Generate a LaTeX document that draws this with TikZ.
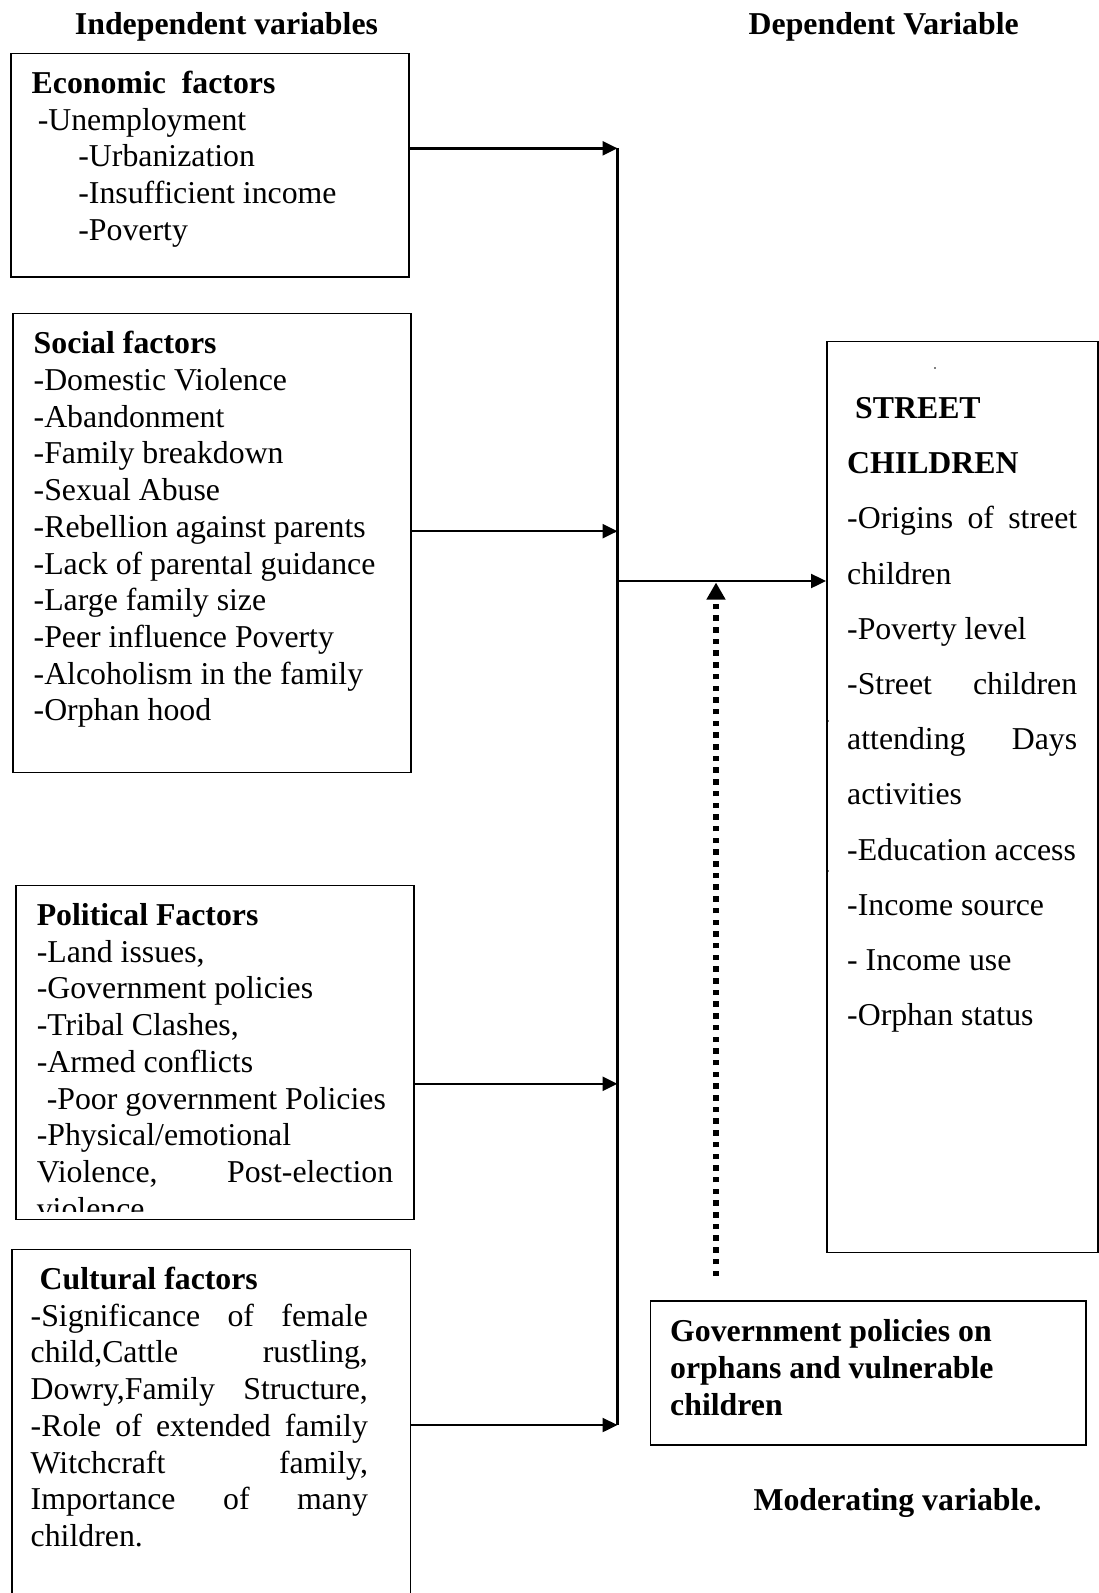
\documentclass[tikz,border=0pt]{standalone}
\usepackage{fontspec}
\setmainfont{Liberation Serif}
\usetikzlibrary{arrows.meta}
\tikzset{
  boxnode/.style={draw, line width=1.5pt, inner sep=0pt, anchor=north west},
  txt/.style={anchor=base west, inner sep=0pt, font=\fontsize{31.8}{36.7}\selectfont},
  streettxt/.style={anchor=base west, inner sep=0pt, font=\fontsize{31.8}{55.2}\selectfont},
  govtxt/.style={anchor=base west, inner sep=0pt, font=\fontsize{31.8}{37}\selectfont\bfseries},
  title/.style={anchor=base, inner sep=0pt, font=\fontsize{31.8}{36.7}\selectfont\bfseries},
  conn/.style={line width=2.4pt},
  arr/.style={line width=2.4pt, -{Triangle[length=15pt,width=14pt]}},
  dotarr/.style={line width=6pt, dash pattern=on 5.5pt off 6.2pt, -{Triangle[length=17pt,width=18pt]}}
}
\begin{document}
\begin{tikzpicture}[x=1pt,y=-1pt]
\useasboundingbox (0,0) rectangle (1098,1593);

% titles
\node[title] (tind) at (226.5,34.2) {Independent variables};
\node[title] (tdep) at (883.7,34.2) {Dependent Variable};
\node[title] (tmod) at (897.5,1510) {Moderating variable.};

% boxes
\node[boxnode, minimum width=398pt, minimum height=223.5pt] (econ) at (10.2,52.8) {};
\node[boxnode, minimum width=398pt, minimum height=459pt] (soc) at (12.2,312.8) {};
\node[boxnode, minimum width=398pt, minimum height=334pt] (pol) at (15.2,884.7) {};
\node[draw=none, inner sep=0pt, anchor=north west, minimum width=398pt, minimum height=360pt] (cult) at (12.2,1249.3) {};
\draw[line width=1.5pt] (cult.south west) -- (cult.north west) -- (cult.north east) -- (cult.south east);
\node[boxnode, minimum width=271pt, minimum height=911pt] (street) at (826,340.5) {};
\node[boxnode, minimum width=435.5pt, minimum height=144pt] (gov) at (649.5,1300) {};

% texts
\node[txt] (econt) at (31.5,93.5) {\parbox[t]{370pt}{%
\textbf{Economic~ factors}\\
\hspace*{6.1pt}-Unemployment\\
\hspace*{46.7pt}-Urbanization\\
\hspace*{46.7pt}-Insufficient income\\
\hspace*{46.7pt}-Poverty}};

\node[txt] (soct) at (33.5,353.8) {\parbox[t]{370pt}{%
\textbf{Social factors}\\
-Domestic Violence\\
-Abandonment\\
-Family breakdown\\
-Sexual Abuse\\
-Rebellion against parents\\
-Lack of parental guidance\\
-Large family size\\
-Peer influence Poverty\\
-Alcoholism in the family\\
-Orphan hood}};

\begin{scope}
\clip (0,0) rectangle (1098,1211);
\node[txt] (polt) at (36.6,925.5) {\parbox[t]{356.4pt}{%
\textbf{Political Factors}\\
-Land issues,\\
-Government policies\\
-Tribal Clashes,\\
-Armed conflicts\\
\hspace*{10pt}-Poor government Policies\\
-Physical/emotional\\
Violence,\hfill Post-election\\
violence}};
\end{scope}

\node[txt] (cultt) at (30.5,1289.5) {\parbox[t]{337.2pt}{%
\hspace*{9pt}\textbf{Cultural factors}\\
-Significance\hfill of\hfill female\\
child,Cattle\hfill rustling,\\
Dowry,Family\hfill Structure,\\
-Role\hfill of\hfill extended\hfill family\\
Witchcraft\hfill family,\\
Importance\hfill of\hfill many\\
children.}};

\node[streettxt] (streett) at (847,418.5) {\parbox[t]{230pt}{%
\hspace*{8pt}\textbf{STREET}\\
\textbf{CHILDREN}\\
-Origins\hfill of\hfill street\\
children\\
-Poverty level\\
-Street\hfill children\\
attending\hfill Days\\
activities\\
-Education access\\
-Income source\\
- Income use\\
-Orphan status}};

\node[govtxt] (govt) at (670,1341.5) {\parbox[t]{400pt}{%
Government policies on\\
orphans and vulnerable\\
children}};

% tiny specks
\fill (935,368) circle (0.9pt);
\fill (828,721) circle (0.8pt);
\fill (828,871) circle (0.8pt);

% connectors
\coordinate (j1) at (617.5,148.3);
\coordinate (j2) at (617.5,531.2);
\coordinate (jm) at (617.5,581);
\coordinate (j3) at (617.5,1083.8);
\coordinate (j4) at (617.5,1425);
\draw[conn] (j1) -- (j4);
\draw[arr] (econ.east |- j1) -- (j1);
\draw[arr] (soc.east |- j2) -- (j2);
\draw[arr] (pol.east |- j3) -- (j3);
\draw[arr] (cult.east |- j4) -- (j4);
\draw[arr] (jm) -- (street.west |- jm);

\coordinate (dbot) at (716,1276);
\coordinate (dtip) at (716,582.5);
\draw[dotarr] (dbot) -- (dtip);
\end{tikzpicture}
\end{document}
